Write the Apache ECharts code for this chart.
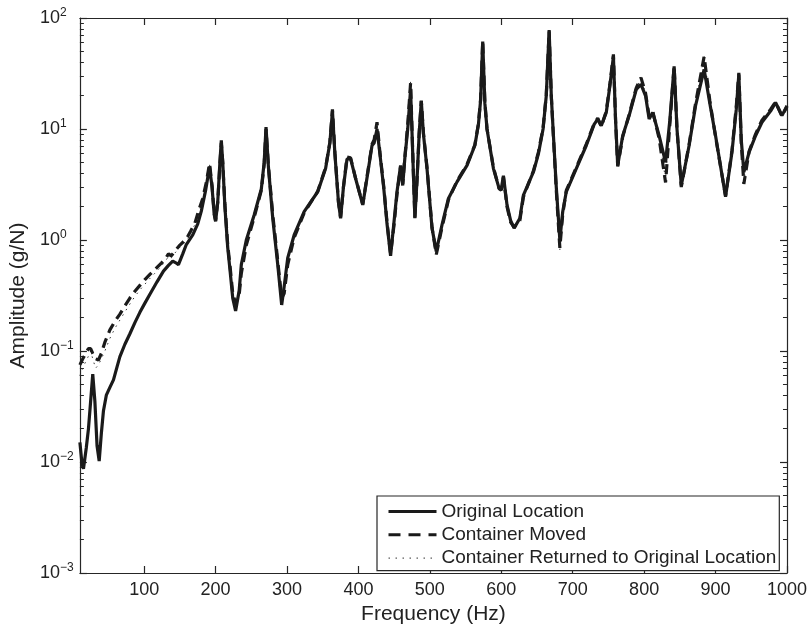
<!DOCTYPE html>
<html><head><meta charset="utf-8">
<script src="https://cdn.jsdelivr.net/npm/echarts@6/dist/echarts.min.js"></script>
<style>html,body{margin:0;padding:0;background:#fff}#c{width:810px;height:630px}</style>
</head><body><div id="c"></div>
<script>
// ---------- data ----------
const seriesNames = ['Original Location', 'Container Moved', 'Container Returned to Original Location'];

// low-frequency part, per series
const freqLowSolid = [10,13,15,19,22,25,28,31,34,37,40,43,47,52,57,62,66,73,80,87,94,101,108,118,127,134,140,145,148,154,159,168,175,180,186];
const ampLowSolid  = [0.015,0.0095,0.0087,0.0135,0.02,0.035,0.062,0.035,0.014,0.0102,0.018,0.029,0.04,0.047,0.055,0.072,0.089,0.115,0.143,0.18,0.223,0.27,0.325,0.42,0.525,0.59,0.645,0.62,0.6,0.75,0.91,1.11,1.4,1.82,2.8];

const freqLowDashed = [10,14,18,22,25,28,32,36,40,45,52,59,66,73,80,87,94,101,108,116,124,130,134,138,142,150,159,165,171,177,182,187];
const ampLowDashed  = [0.075,0.085,0.095,0.105,0.105,0.095,0.085,0.083,0.095,0.12,0.155,0.185,0.215,0.255,0.30,0.345,0.39,0.44,0.49,0.55,0.62,0.68,0.75,0.72,0.78,0.9,1.02,1.2,1.42,1.9,2.37,3.3];

const freqLowDotted = [10,14,18,22,25,28,32,36,40,45,52,59,66,73,80,87,94,101,108,116,124,130,134,138,142,150,159,165,171,177,182,187];
const ampLowDotted  = [0.06,0.07,0.08,0.09,0.1,0.085,0.07,0.075,0.085,0.1,0.13,0.16,0.19,0.225,0.265,0.31,0.355,0.4,0.45,0.51,0.58,0.65,0.71,0.69,0.75,0.86,0.98,1.15,1.38,1.85,2.3,3.2];

// high-frequency part, shared frequencies
const freqHigh = [
  191.5,195,198,200,203,206,208,210,213,217,
  220,224,228,230,233,236,243,254,264,268,
  270.6,274,280,287,292.5,296,301,310,324,343,
  354,360,363.6,367,372,375,379,384,389,396,
  406,413,419,422,426,430,435.5,440,445,450,
  454,459,462,465,469,473,476,479,482,485,
  488,491,496,503,509,517,526,538,552,563,
  568,571,574,577,580,589,597,600,603,608,
  613,618,626,631,645,652,658.5,663,667,670,
  673,677,682,686,691,705,719,730,735,740,
  747,752,757,760,763,770,779,789,795.6,802,
  807,812,821,830,836,842,846,852,863,872,
  884,892,900,914,923,929,932.6,936,939.6,947,
  956,965,977,984,993,1000];
const ampHighSolid = [
  4.55,3.0,1.7,1.47,2.2,5.0,7.9,5.0,2.0,0.85,
  0.55,0.30,0.23,0.23,0.35,0.6,1.0,1.68,2.88,5.0,
  10.4,4.5,1.57,0.6,0.26,0.38,0.69,1.11,1.8,2.72,
  4.4,7.5,14.5,6,2.2,1.57,3.0,5.37,5.4,3.58,
  2.07,4.0,7.1,7.5,10,6,2.9,1.4,0.72,1.5,
  2.72,4.7,3.1,5.5,10,22.8,6,1.57,3.5,9,
  17.8,9,4.4,1.28,0.79,1.37,2.37,3.34,4.7,7.1,
  11,18,61.5,17,10,4.4,2.9,2.9,3.8,2.07,
  1.5,1.28,1.57,2.54,4.1,6,10,20,78,20,
  8.7,3,1.0,1.8,2.72,4.4,7.1,11,12.3,10.7,
  14.1,24.4,45,12,4.7,8.7,13.2,22.8,25.2,19.9,
  12.3,14.1,8.7,5.0,12,36.7,10,3.1,7.1,16.2,
  34.4,17,8.7,2.45,6.2,15,31,8,4.1,6.2,
  8.7,11.5,14.5,17.3,13.2,16.2];
const ampHighDashed = [
  4.9,3.1,1.75,1.5,2.2,4.8,7.5,5.0,2.1,0.9,
  0.6,0.33,0.27,0.29,0.32,0.5,0.9,1.6,2.8,4.8,
  10.0,4.6,1.7,0.65,0.3,0.33,0.6,1.05,1.75,2.75,
  4.5,7.6,15,6.2,2.2,1.6,3.0,5.6,5.5,3.6,
  2.1,4.1,7.3,8,11.5,6.2,3.0,1.45,0.75,1.4,
  2.6,4.6,3.2,5.6,11,26,6.2,1.6,3.4,9.2,
  18,9.2,4.5,1.3,0.74,1.3,2.3,3.4,4.8,7.2,
  11.2,18.5,62,17.5,10,4.5,2.9,2.8,3.7,2.0,
  1.45,1.3,1.5,2.45,4.2,6.2,10.2,20.5,76,20,
  8.5,2.8,0.85,1.7,2.8,4.5,7.3,11.2,12.5,10.5,
  14.5,25,47,12,4.6,8.5,13.5,23.5,29,21,
  13,14.5,8.2,3.3,11,37,10,3.0,7.3,17,
  45,18,8.5,2.5,6.4,16,32,7.5,3.2,6.3,
  9,12,15,17.5,13,16];
const ampHighDotted = [
  4.8,3.05,1.72,1.48,2.2,4.9,7.7,5.0,2.05,0.88,
  0.58,0.32,0.25,0.26,0.33,0.55,0.95,1.62,2.85,4.9,
  10.2,4.5,1.62,0.62,0.28,0.35,0.65,1.08,1.78,2.73,
  4.45,7.5,14.8,6.1,2.2,1.58,3.0,5.5,5.45,3.6,
  2.08,4.05,7.2,7.8,11,6.1,2.95,1.42,0.74,1.45,
  2.65,4.65,3.15,5.55,10.5,27,6.1,1.58,3.45,9.1,
  18,9.1,4.45,1.29,0.76,1.33,2.33,3.37,4.75,7.15,
  11.1,18.2,61,17.2,10,4.45,2.9,2.85,3.75,2.03,
  1.47,1.29,1.53,2.5,4.15,6.1,10.1,20.2,77,20,
  8.6,2.9,0.82,1.75,2.75,4.45,7.2,11.1,12.4,10.6,
  14.3,24.7,44,12,4.65,8.6,13.3,23,29.5,20.5,
  12.6,14.3,8.4,3.5,11.5,36.8,10,3.05,7.2,16.6,
  46,17.5,8.6,2.48,6.3,15.5,31.5,7.8,3.4,6.25,
  8.8,11.8,14.8,17.4,13.1,16.1];

// axis ticks
const xTickValues = [100,200,300,400,500,600,700,800,900,1000];
const yMinorTicks = [
  0.002,0.003,0.004,0.005,0.006,0.007,0.008,0.009,
  0.02,0.03,0.04,0.05,0.06,0.07,0.08,0.09,
  0.2,0.3,0.4,0.5,0.6,0.7,0.8,0.9,
  2,3,4,5,6,7,8,9,
  20,30,40,50,60,70,80,90];

// ---------- build ----------
function pairs(fx, fy) { return fx.map((f, i) => [f, fy[i]]); }
const dataSolid  = pairs(freqLowSolid, ampLowSolid).concat(pairs(freqHigh, ampHighSolid));
const dataDashed = pairs(freqLowDashed, ampLowDashed).concat(pairs(freqHigh, ampHighDashed));
const dataDotted = pairs(freqLowDotted, ampLowDotted).concat(pairs(freqHigh, ampHighDotted));

const INK = '#1a1a1a';
const FONT = 'Liberation Sans, Arial, Helvetica, sans-serif';
const AXC = '#262626';
const axisLine = { show: true, onZero: false, lineStyle: { color: AXC, width: 1.2 } };

function supLabel(v) {
  const e = Math.round(Math.log10(v));
  const s = e < 0 ? '\u2212' + Math.abs(e) : String(e);
  return '{b|10}{s|' + s + '}';
}

const yMin = 0.001, yMax = 100;
const yBase = { type: 'log', logBase: 10, min: yMin, max: yMax, splitLine: { show: false }, minorTick: { show: false } };
// decoration-only axes for log minor ticks (positions in decades)
const minorTickPos = yMinorTicks.map(v => Math.log10(v));
const yMinorBase = {
  type: 'value', min: Math.log10(yMin), max: Math.log10(yMax),
  splitLine: { show: false }, axisLine: { show: false, onZero: false }, axisLabel: { show: false },
  axisTick: { show: true, inside: true, length: 4, customValues: minorTickPos, lineStyle: { color: AXC, width: 1 } }
};

const option = {
  animation: false,
  backgroundColor: '#fff',
  grid: { left: 78, right: 22, top: 18, bottom: 52, containLabel: false },
  legend: {
    data: [
      { name: seriesNames[0], lineStyle: { width: 3, type: 'solid', color: INK } },
      { name: seriesNames[1], lineStyle: { width: 3, type: [12, 8], color: INK } },
      { name: seriesNames[2], lineStyle: { width: 1, type: [1.5, 5.5], color: '#333' } }
    ],
    orient: 'vertical',
    left: 377, top: 496,
    padding: [6, 3, 3, 10],
    itemGap: 4.3,
    itemWidth: 48, itemHeight: 14,
    backgroundColor: '#fff',
    borderColor: AXC, borderWidth: 1.2, borderRadius: 0,
    itemStyle: { opacity: 0, borderWidth: 0 },
    textStyle: { fontSize: 19, color: '#222', fontFamily: FONT }
  },
  xAxis: [
    {
      type: 'value', min: 10, max: 1000, position: 'bottom',
      name: 'Frequency (Hz)', nameLocation: 'middle', nameGap: 31,
      nameTextStyle: { fontSize: 21, color: '#222', fontFamily: FONT },
      axisLine: axisLine,
      axisTick: { show: true, inside: true, length: 7, customValues: xTickValues, lineStyle: { color: AXC, width: 1.2 } },
      axisLabel: { show: true, customValues: xTickValues, margin: 8, fontSize: 18, color: '#222', fontFamily: FONT, formatter: v => String(v) },
      splitLine: { show: false }
    },
    {
      type: 'value', min: 10, max: 1000, position: 'top',
      axisLine: axisLine,
      axisTick: { show: true, inside: true, length: 7, customValues: xTickValues, lineStyle: { color: AXC, width: 1.2 } },
      axisLabel: { show: false },
      splitLine: { show: false }
    }
  ],
  yAxis: [
    Object.assign({}, yBase, {
      position: 'left',
      name: 'Amplitude (g/N)', nameLocation: 'middle', nameGap: 47,
      nameTextStyle: { fontSize: 21, color: '#222', fontFamily: FONT },
      axisLine: axisLine,
      axisTick: { show: true, inside: true, length: 7, lineStyle: { color: AXC, width: 1.2 } },
      axisLabel: {
        show: true, align: 'left', margin: 40, formatter: supLabel,
        rich: {
          b: { fontSize: 18, color: '#222', fontFamily: FONT },
          s: { fontSize: 12, color: '#222', fontFamily: FONT, padding: [0, 0, 10, 0] }
        }
      }
    }),
    Object.assign({}, yMinorBase, { position: 'left' }),
    Object.assign({}, yBase, {
      position: 'right',
      axisLine: axisLine,
      axisTick: { show: true, inside: true, length: 7, lineStyle: { color: AXC, width: 1.2 } },
      axisLabel: { show: false }
    }),
    Object.assign({}, yMinorBase, { position: 'right' })
  ],
  series: [
    {
      name: seriesNames[0], type: 'line', data: dataSolid, symbol: 'none', showSymbol: false,
      xAxisIndex: 0, yAxisIndex: 0, z: 4,
      lineStyle: { color: INK, width: 3.2, type: 'solid' }, itemStyle: { color: INK }
    },
    {
      name: seriesNames[1], type: 'line', data: dataDashed, symbol: 'none', showSymbol: false,
      xAxisIndex: 0, yAxisIndex: 0, z: 3,
      lineStyle: { color: INK, width: 3.2, type: [10, 6] }, itemStyle: { color: INK }
    },
    {
      name: seriesNames[2], type: 'line', data: dataDotted, symbol: 'none', showSymbol: false,
      xAxisIndex: 0, yAxisIndex: 0, z: 2,
      lineStyle: { color: '#333', width: 1, type: [1.5, 5] }, itemStyle: { color: '#333' }
    }
  ]
};

const chart = echarts.init(document.getElementById('c'), null, { renderer: 'canvas' });
chart.setOption(option);
</script>
</body></html>
